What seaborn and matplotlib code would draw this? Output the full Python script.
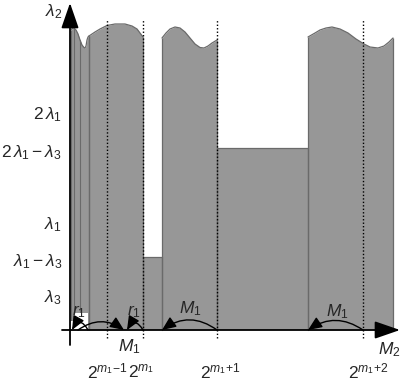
import matplotlib
matplotlib.use("Agg")
import matplotlib.pyplot as plt
import seaborn as sns
import numpy as np

# ---------------- data (schematic units, origin at the axes crossing) ----------------
lam1, lam3 = 107, 34
ytick_vals = [32, 68, 105, 177, 215]
ytick_labels = [r'$\lambda_3$', r'$\lambda_1 - \lambda_3$', r'$\lambda_1$',
                r'$2\,\lambda_1 - \lambda_3$', r'$2\,\lambda_1$']

# wavy top regions
wave1_x = [1, 2, 4, 6, 8, 10, 12, 14, 15, 16, 17, 18, 19]
wave1_y = [300, 301.5, 302, 300, 296, 290, 285, 282.5, 282, 284, 290, 293, 294]
wave2_x = [19, 25, 30, 37, 45, 55, 62, 67, 70, 73]
wave2_y = [294, 298, 301, 304.5, 306, 306, 304, 301, 297, 293]
wave3_x = [92, 96, 100, 105, 110, 115, 120, 125, 130, 134, 138, 142, 147]
wave3_y = [292, 297, 301, 303, 302, 298, 292, 286, 282.5, 282, 284, 287, 290]
wave4_x = [238, 245, 250, 256, 262, 270, 278, 286, 294, 300, 308, 314, 319, 323]
wave4_y = [293, 297, 300, 302, 303, 301, 297, 291, 286, 283, 282, 284, 288, 292]

# flat regions: (x0, x1, height)
flat_x0 = [73, 147]
flat_x1 = [92, 238]
flat_h = [lam1 - lam3, 2 * lam1 - lam3 + 2]

# inner split lines in the first region
inner_x = [4, 10]
# white notch (r1 area)
notch_x = [4, 18]
notch_h = 17

# dotted reference lines: 2^{m1-1}, 2^{m1}, 2^{m1+1}, 2^{m1+2}
dot_x = [37, 73, 147, 293]
xlabels = [r'$2^{m_1\!-\!1}$', r'$2^{m_1}$', r'$2^{m_1\!+\!1}$', r'$2^{m_1\!+\!2}$']
xlabel_pos = [58, 58, 150, 298]
xlabel_ha = ['right', 'left', 'center', 'center']

# curved arrows (start, end, rad)
arc_start = [18, 8, 73, 147, 293]
arc_end = [2, 54, 57, 92, 238]
arc_rad = [0.9, -0.35, 0.85, 0.36, 0.34]

# ---------------- style ----------------
sns.set_theme(style="white")
plt.rcParams['font.family'] = ['Liberation Sans', 'DejaVu Sans']
plt.rcParams['mathtext.fontset'] = 'custom'
plt.rcParams['mathtext.rm'] = 'Liberation Sans'
plt.rcParams['mathtext.it'] = 'Liberation Sans:italic'
plt.rcParams['mathtext.bf'] = 'Liberation Sans:bold'
plt.rcParams['mathtext.sf'] = 'Liberation Sans'

fill = '#979797'
edge = '#6a6a6a'

fig = plt.figure(figsize=(4.03, 3.83), dpi=100)
ax = fig.add_axes([0, 0, 1, 1])
ax.set_xlim(-70, 333)
ax.set_ylim(-53, 330)
ax.axis('off')

for wx, wy in [(wave1_x, wave1_y), (wave2_x, wave2_y), (wave3_x, wave3_y), (wave4_x, wave4_y)]:
    ax.fill_between(wx, 0, wy, color=fill, lw=0, zorder=1)
    sns.lineplot(x=wx, y=wy, ax=ax, color=edge, lw=0.9, sort=False, estimator=None, zorder=2)
    ax.vlines([wx[0], wx[-1]], 0, [wy[0], wy[-1]], color=edge, lw=0.9, zorder=2)

for x0, x1, h in zip(flat_x0, flat_x1, flat_h):
    ax.fill_between([x0, x1], 0, [h, h], color=fill, lw=0, zorder=1)
    ax.plot([x0, x0, x1, x1], [0, h, h, 0], color=edge, lw=0.9, zorder=2)

# inner lines of first region
ax.vlines(inner_x, [9, notch_h], [302, 290], color=edge, lw=0.8, zorder=2)
# white notch
ax.fill_between(notch_x, 0, [notch_h, notch_h], color='white', lw=0, zorder=3)
ax.fill_between([1, notch_x[0]], 0, [9, 9], color='white', lw=0, zorder=3)

# dotted lines
for xv in dot_x:
    ax.plot([xv, xv], [-8, 311], color='black', lw=1.0, ls=(0, (1, 1.5)), zorder=4)

# axes lines with arrowheads
ax.annotate('', xy=(330, 0), xytext=(-8, 0),
            arrowprops=dict(arrowstyle='-|>,head_length=1.3,head_width=0.45',
                            color='black', lw=1.3, shrinkA=0, shrinkB=0, mutation_scale=12),
            zorder=5)
ax.annotate('', xy=(0, 327), xytext=(0, -15),
            arrowprops=dict(arrowstyle='-|>,head_length=1.3,head_width=0.45',
                            color='black', lw=1.3, shrinkA=0, shrinkB=0, mutation_scale=12),
            zorder=5)

# curved arrows
for s, e, r in zip(arc_start, arc_end, arc_rad):
    ax.annotate('', xy=(e, 0), xytext=(s, 0),
                arrowprops=dict(arrowstyle='-|>,head_length=0.7,head_width=0.3',
                                connectionstyle=f'arc3,rad={r}', color='black', lw=1.0,
                                shrinkA=0, shrinkB=0, mutation_scale=12),
                zorder=6)

# y labels
fs = 12.5
for yv, lab in zip(ytick_vals, ytick_labels):
    ax.text(-8, yv, lab, ha='right', va='center', fontsize=fs)
ax.text(-8, 318, r'$\lambda_2$', ha='right', va='center', fontsize=fs)

# x labels
for xv, lab, ha in zip(xlabel_pos, xlabels, xlabel_ha):
    ax.text(xv, -41, lab, ha=ha, va='center', fontsize=fs)
ax.text(331, -20, r'$M_2$', ha='right', va='center', fontsize=fs)
ax.text(59, -17, r'$M_1$', ha='center', va='center', fontsize=fs)

# arc labels
ax.text(9, 18, r'$r_1$', ha='center', va='center', fontsize=fs, zorder=7)
ax.text(64, 18, r'$r_1$', ha='center', va='center', fontsize=fs, zorder=7)
ax.text(120, 21, r'$M_1$', ha='center', va='center', fontsize=fs, zorder=7)
ax.text(267, 18, r'$M_1$', ha='center', va='center', fontsize=fs, zorder=7)

fig.savefig('out.png', dpi=100)
